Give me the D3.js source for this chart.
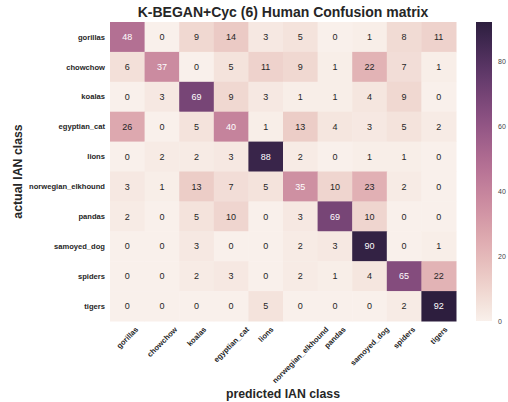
<!DOCTYPE html>
<html>
<head>
<meta charset="utf-8">
<script src="https://cdn.jsdelivr.net/npm/d3@7"></script>
<style>
  body { margin: 0; background: #fff; }
  text { font-family: "Liberation Sans", Arial, sans-serif; }
</style>
</head>
<body>
<svg id="chart"></svg>
<script>
// class names, shared by rows (actual) and columns (predicted)
const classes = ["gorillas", "chowchow", "koalas", "egyptian_cat", "lions",
  "norwegian_elkhound", "pandas", "samoyed_dog", "spiders", "tigers"];

// rows = actual class, columns = predicted class
const gorillas          = [48, 0, 9, 14, 3, 5, 0, 1, 8, 11];
const chowchow          = [6, 37, 0, 5, 11, 9, 1, 22, 7, 1];
const koalas            = [0, 3, 69, 9, 3, 1, 1, 4, 9, 0];
const egyptian_cat      = [26, 0, 5, 40, 1, 13, 4, 3, 5, 2];
const lions             = [0, 2, 2, 3, 88, 2, 0, 1, 1, 0];
const norwegian_elkhound = [3, 1, 13, 7, 5, 35, 10, 23, 2, 0];
const pandas            = [2, 0, 5, 10, 0, 3, 69, 10, 0, 0];
const samoyed_dog       = [0, 0, 3, 0, 0, 2, 3, 90, 0, 1];
const spiders           = [0, 0, 2, 3, 0, 2, 1, 4, 65, 22];
const tigers            = [0, 0, 0, 0, 5, 0, 0, 0, 2, 92];

const colorTicks = [0, 20, 40, 60, 80];

const rows = [gorillas, chowchow, koalas, egyptian_cat, lions,
  norwegian_elkhound, pandas, samoyed_dog, spiders, tigers];

const width = 508, height = 402;
const svg = d3.select('#chart')
  .attr('width', width)
  .attr('height', height);

const mLeft = 110, mRight = 456, mTop = 22, mBottom = 321;

// seaborn's cubehelix_palette(light=.95, as_cmap=True)
function cubehelix(t) {
  t = Math.max(0, Math.min(1, t));
  const x = 0.95 + (0.15 - 0.95) * t;
  const gamma = 1, start = 0, rot = 0.4, hue = 0.8;
  const xg = Math.pow(x, gamma);
  const a = hue * xg * (1 - xg) / 2;
  const phi = 2 * Math.PI * (start / 3 + rot * x);
  const ch = (p0, p1) => Math.max(0, Math.min(1, xg + a * (p0 * Math.cos(phi) + p1 * Math.sin(phi))));
  return [ch(-0.14861, 1.78277), ch(-0.29227, -0.90649), ch(1.97294, 0)];
}
function toRgb(c) {
  return d3.rgb(c[0] * 255, c[1] * 255, c[2] * 255).toString();
}
function luminance(c) {
  const lin = c.map(v => v <= 0.03928 ? v / 12.92 : Math.pow((v + 0.055) / 1.055, 2.4));
  return 0.2126 * lin[0] + 0.7152 * lin[1] + 0.0722 * lin[2];
}

const vmax = d3.max(rows, r => d3.max(r));
const norm = d3.scaleLinear().domain([0, vmax]).range([0, 1]);

const xScale = d3.scaleBand().domain(classes).range([mLeft, mRight]);
const yScale = d3.scaleBand().domain(classes).range([mTop, mBottom]);

const cells = [];
rows.forEach((r, i) => r.forEach((v, j) => cells.push({ row: classes[i], col: classes[j], value: v })));

const cellG = svg.append('g');
cellG.selectAll('rect')
  .data(cells)
  .enter()
  .append('rect')
  .attr('x', d => xScale(d.col))
  .attr('y', d => yScale(d.row))
  .attr('width', xScale.bandwidth() + 0.5)
  .attr('height', yScale.bandwidth() + 0.5)
  .attr('fill', d => toRgb(cubehelix(norm(d.value))));

cellG.selectAll('text')
  .data(cells)
  .enter()
  .append('text')
  .attr('x', d => xScale(d.col) + xScale.bandwidth() / 2)
  .attr('y', d => yScale(d.row) + yScale.bandwidth() / 2)
  .attr('dy', '0.35em')
  .attr('text-anchor', 'middle')
  .attr('font-size', 9)
  .attr('fill', d => luminance(cubehelix(norm(d.value))) > 0.408 ? '#262626' : '#ffffff')
  .text(d => d.value);

// y tick labels
svg.append('g')
  .selectAll('text')
  .data(classes)
  .enter()
  .append('text')
  .attr('x', mLeft - 5)
  .attr('y', d => yScale(d) + yScale.bandwidth() / 2)
  .attr('dy', '0.35em')
  .attr('text-anchor', 'end')
  .attr('font-size', 7.6)
  .attr('font-weight', 'bold')
  .attr('fill', '#262626')
  .text(d => d);

// x tick labels, rotated 45 with the box centred on the tick
const xLabels = svg.append('g')
  .selectAll('text')
  .data(classes)
  .enter()
  .append('text')
  .attr('text-anchor', 'end')
  .attr('font-size', 7.6)
  .attr('font-weight', 'bold')
  .attr('fill', '#262626')
  .text(d => d);

xLabels.each(function (d) {
  const len = this.getComputedTextLength();
  const cx = xScale(d) + xScale.bandwidth() / 2;
  const ex = cx + len * Math.SQRT1_2 / 2 + 2;
  d3.select(this).attr('transform', `translate(${ex}, ${mBottom + 9}) rotate(-45)`);
});

// title and axis labels
svg.append('text')
  .attr('x', (mLeft + mRight) / 2)
  .attr('y', 17)
  .attr('text-anchor', 'middle')
  .attr('font-size', 14)
  .attr('font-weight', 'bold')
  .attr('fill', '#262626')
  .text('K-BEGAN+Cyc (6) Human Confusion matrix');

svg.append('text')
  .attr('x', (mLeft + mRight) / 2)
  .attr('y', 398)
  .attr('text-anchor', 'middle')
  .attr('font-size', 12.3)
  .attr('font-weight', 'bold')
  .attr('fill', '#262626')
  .text('predicted IAN class');

svg.append('text')
  .attr('transform', `translate(22, ${(mTop + mBottom) / 2}) rotate(-90)`)
  .attr('text-anchor', 'middle')
  .attr('font-size', 12.3)
  .attr('font-weight', 'bold')
  .attr('fill', '#262626')
  .text('actual IAN class');

// colorbar
const cbX = 476, cbW = 16;
const cScale = d3.scaleLinear().domain([0, vmax]).range([mBottom, mTop]);

const grad = svg.append('defs').append('linearGradient')
  .attr('id', 'cbar')
  .attr('x1', 0).attr('y1', 1).attr('x2', 0).attr('y2', 0);
d3.range(0, 1.0001, 0.05).forEach(t => {
  grad.append('stop')
    .attr('offset', t)
    .attr('stop-color', toRgb(cubehelix(t)));
});

svg.append('rect')
  .attr('x', cbX)
  .attr('y', mTop)
  .attr('width', cbW)
  .attr('height', mBottom - mTop)
  .attr('fill', 'url(#cbar)');

const cAxis = svg.append('g')
  .attr('transform', `translate(${cbX + cbW}, 0)`)
  .call(d3.axisRight(cScale).tickValues(colorTicks).tickSize(0).tickPadding(6));
cAxis.select('.domain').remove();
cAxis.selectAll('text')
  .attr('font-size', 7)
  .attr('fill', '#444')
  .style('font-family', '"Liberation Sans", Arial, sans-serif');
</script>
</body>
</html>
